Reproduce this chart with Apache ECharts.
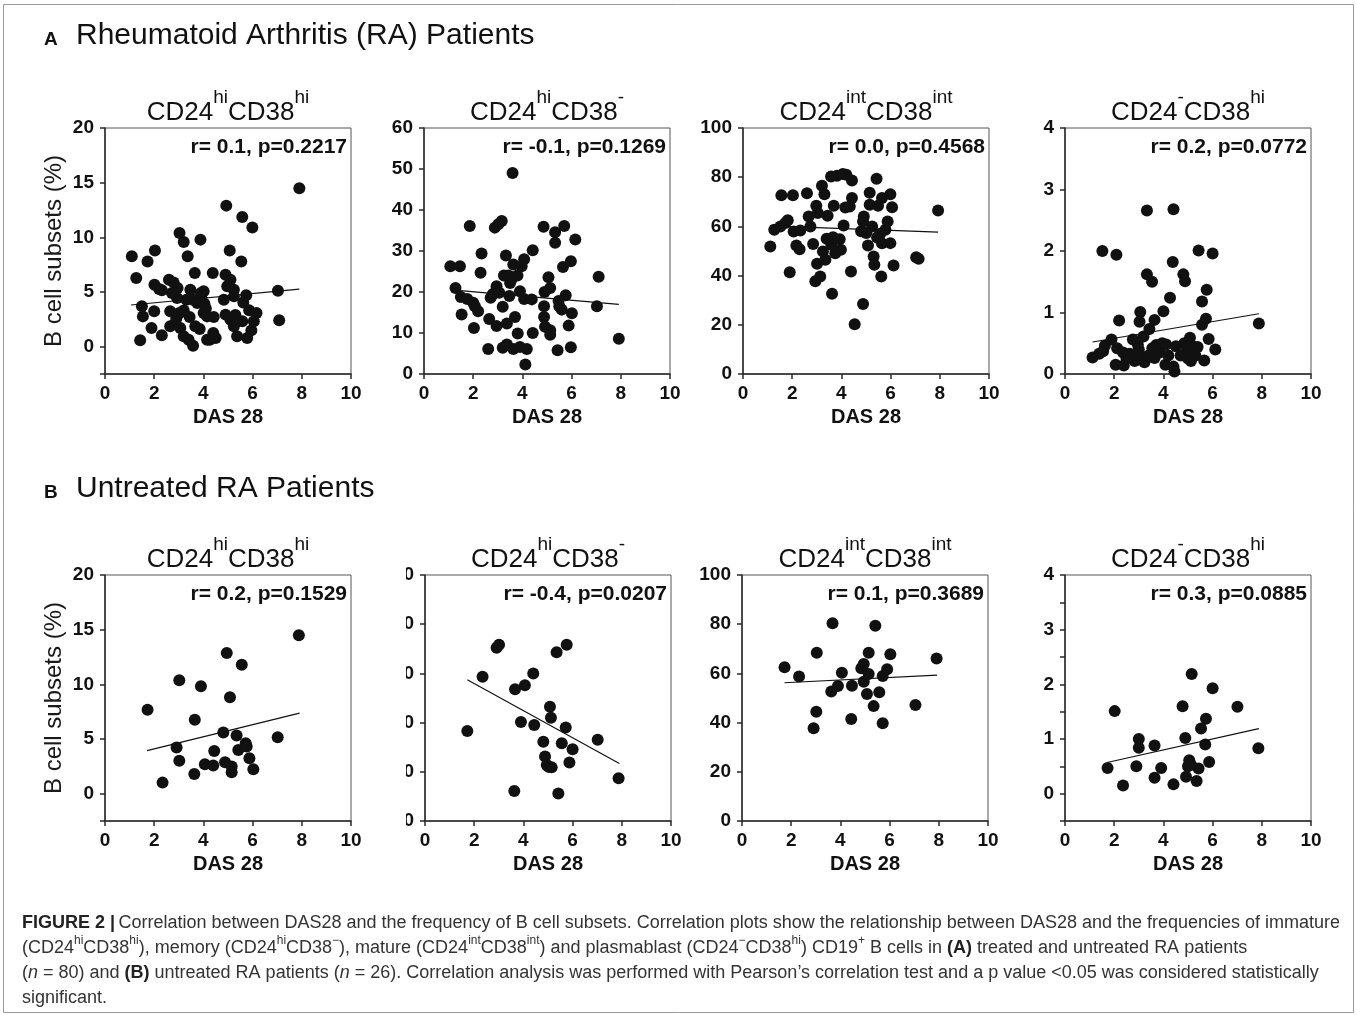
<!DOCTYPE html>
<html>
<head>
<meta charset="utf-8">
<script src="https://cdn.jsdelivr.net/npm/echarts@6/dist/echarts.min.js"></script>
<style>
html,body{margin:0;padding:0;background:#fff;}
#chart{width:1357px;height:1015px;}
</style>
</head>
<body>
<div id="chart"></div>
<script>
// ---------- DATA ----------
const panelTitles = [
  ['CD24','hi','CD38','hi'],
  ['CD24','hi','CD38','-'],
  ['CD24','int','CD38','int'],
  ['CD24','-','CD38','hi']
];
const statsA = ['r= 0.1, p=0.2217', 'r= -0.1, p=0.1269', 'r= 0.0, p=0.4568', 'r= 0.2, p=0.0772'];
const statsB = ['r= 0.2, p=0.1529', 'r= -0.4, p=0.0207', 'r= 0.1, p=0.3689', 'r= 0.3, p=0.0885'];

// y-axis extents per panel [min, max]
const yRangesA = [[-2.5, 20], [0, 60], [0, 100], [0, 4]];
const yRangesB = [[-2.5, 20], [0, 50], [0, 100], [-0.5, 4]];

// A: all RA patients (DAS28, %)
const A_CD24hiCD38hi = [[1.09,8.26],[1.27,6.28],[1.73,7.8],[2.03,8.8],[1.5,3.7],[1.54,2.77],[1.43,0.58],[2.0,3.23],[1.89,1.7],[2.31,1.04],[2.01,5.67],[2.2,5.27],[2.31,5.15],[2.6,6.13],[2.79,5.88],[2.95,5.37],[2.93,4.45],[2.65,3.23],[2.65,1.86],[2.86,2.16],[3.02,3.08],[3.03,10.4],[3.2,9.57],[3.36,8.26],[3.06,1.7],[3.2,0.95],[3.4,0.64],[3.58,0.09],[3.44,2.71],[3.31,4.3],[3.47,5.2],[3.58,4.3],[3.65,6.74],[3.67,1.86],[3.85,1.62],[3.88,9.79],[3.92,4.45],[4.01,5.06],[4.04,3.93],[4.01,3.08],[4.15,2.77],[4.15,0.64],[4.26,0.64],[4.38,6.74],[4.42,2.71],[4.4,1.25],[4.5,0.79],[4.83,4.3],[4.9,6.58],[4.93,12.9],[4.97,5.52],[5.1,6.13],[5.24,5.2],[5.07,8.8],[4.9,2.93],[5.1,2.47],[5.24,1.86],[5.37,0.95],[5.58,11.86],[5.54,7.8],[5.58,2.32],[5.62,4.05],[5.74,4.7],[5.78,0.79],[5.95,1.49],[5.86,3.32],[6.16,3.08],[6.05,2.32],[5.99,10.9],[7.03,5.12],[7.08,2.41],[7.9,14.48],[5.24,4.6],[2.72,4.9],[3.75,4.0],[4.1,3.5],[3.2,3.3],[2.9,2.6],[3.9,4.9],[5.3,2.9]];
const A_CD24hiCD38neg = [[1.07,26.3],[1.46,26.3],[1.28,21.0],[1.5,18.8],[1.76,18.3],[1.53,14.5],[1.86,36.1],[2.0,17.4],[2.07,16.5],[2.2,15.3],[2.03,11.2],[2.34,29.4],[2.3,24.7],[2.65,13.4],[2.61,6.1],[2.71,18.6],[2.88,35.7],[3.02,36.5],[3.16,37.3],[2.95,21.4],[3.06,19.8],[2.95,11.7],[3.2,16.4],[3.33,28.9],[3.25,24.0],[3.43,24.0],[3.63,26.7],[3.6,49.0],[3.5,22.2],[3.47,19.0],[3.37,12.3],[3.7,13.9],[3.8,24.0],[3.97,26.3],[4.07,28.0],[3.9,20.2],[4.07,18.3],[3.81,9.9],[3.2,6.4],[3.37,7.2],[3.63,6.1],[3.9,6.6],[4.18,6.1],[4.12,2.3],[4.42,30.2],[4.38,18.2],[4.42,10.0],[4.86,35.9],[4.88,16.5],[4.88,13.9],[4.92,11.5],[5.06,23.6],[5.13,21.0],[5.13,10.7],[5.13,9.6],[5.33,34.6],[5.33,32.0],[5.47,17.8],[5.6,15.7],[5.43,5.8],[5.7,36.1],[5.65,26.1],[5.76,19.2],[5.97,27.5],[6.15,32.8],[6.01,14.8],[5.88,11.8],[5.97,6.5],[7.1,23.7],[7.03,16.5],[7.92,8.6],[2.8,19.5],[3.55,23.0],[4.9,20.0],[5.5,16.5]];
const A_CD24intCD38int = [[1.11,51.8],[1.27,58.6],[1.52,60.0],[1.56,72.7],[1.72,61.4],[1.82,62.5],[1.9,41.4],[2.03,72.7],[2.06,57.9],[2.17,52.2],[2.3,50.7],[2.33,58.3],[2.6,73.5],[2.67,64.0],[2.74,60.0],[2.85,52.8],[2.94,37.7],[3.01,44.8],[2.98,68.4],[3.14,39.6],[3.21,76.5],[3.31,73.1],[3.25,49.8],[3.35,46.4],[3.04,65.4],[3.44,64.3],[3.62,32.6],[3.58,80.3],[3.69,68.4],[3.66,55.6],[3.59,52.5],[3.75,49.1],[3.93,54.8],[3.98,50.5],[3.82,80.6],[4.06,81.3],[4.2,81.0],[4.09,60.4],[4.16,67.7],[4.43,78.7],[4.43,71.5],[4.34,68.1],[4.39,41.7],[4.54,20.2],[4.88,28.5],[4.91,64.0],[4.88,62.0],[5.01,57.3],[5.15,73.7],[5.15,68.8],[5.08,52.2],[5.25,60.0],[5.31,47.8],[5.34,44.4],[5.43,79.4],[5.49,68.4],[5.65,71.5],[5.58,57.0],[5.65,53.1],[5.79,58.6],[5.88,62.0],[5.62,39.6],[5.99,73.1],[6.06,67.8],[5.99,53.2],[6.12,44.1],[7.04,47.5],[7.14,46.8],[7.93,66.5],[3.4,55.0],[4.8,58.0],[5.45,55.5]];
const A_CD24negCD38hi = [[1.12,0.27],[1.39,0.33],[1.52,2.0],[1.55,0.37],[1.62,0.46],[1.89,0.56],[2.09,1.94],[2.2,0.87],[2.06,0.15],[2.39,0.14],[2.12,0.42],[2.36,0.35],[2.63,0.33],[2.83,0.21],[2.96,0.48],[3.06,1.01],[3.03,0.85],[3.19,0.61],[3.1,0.27],[3.23,0.19],[3.33,2.66],[3.33,1.62],[3.54,1.5],[3.43,0.73],[3.64,0.88],[3.71,0.47],[3.64,0.26],[4.0,1.02],[4.11,0.48],[4.08,0.15],[4.27,1.24],[4.38,1.82],[4.41,2.68],[4.41,0.12],[4.45,0.04],[4.51,0.45],[4.81,1.62],[4.88,1.51],[4.85,0.5],[4.92,0.35],[5.08,0.59],[5.12,0.21],[5.19,0.45],[5.39,0.44],[5.43,2.01],[5.57,1.18],[5.57,0.8],[5.66,0.22],[5.76,1.37],[5.73,0.9],[5.84,0.57],[6.0,1.96],[6.11,0.4],[7.88,0.82],[2.76,0.56],[2.9,0.3],[3.4,0.3],[3.55,0.42],[3.85,0.35],[3.95,0.5],[4.2,0.3],[2.5,0.25],[3.0,0.4],[4.7,0.3],[5.0,0.25],[5.3,0.3]];

// B: untreated RA patients
const B_CD24hiCD38hi = [[1.73,7.68],[2.34,1.01],[2.91,4.22],[3.02,3.0],[3.02,10.37],[3.65,6.76],[3.63,1.8],[3.9,9.82],[4.06,2.69],[4.44,3.91],[4.4,2.57],[4.81,5.6],[4.88,2.87],[4.95,12.87],[5.08,8.81],[5.15,2.48],[5.15,1.96],[5.35,5.32],[5.42,4.0],[5.56,11.8],[5.72,4.62],[5.76,4.31],[5.87,3.24],[6.03,2.23],[7.02,5.17],[7.88,14.5]];
const B_CD24hiCD38neg = [[1.72,18.3],[2.34,29.3],[2.91,35.2],[3.01,35.8],[3.66,26.8],[3.63,6.1],[3.9,20.1],[4.06,27.6],[4.4,30.0],[4.44,19.5],[4.81,16.1],[4.88,13.1],[4.95,11.4],[5.08,23.2],[5.12,21.0],[5.15,10.9],[5.35,34.3],[5.42,5.6],[5.56,15.8],[5.72,19.0],[5.76,35.8],[6.0,14.6],[5.87,11.9],[7.02,16.5],[7.87,8.7],[5.02,11.0]];
const B_CD24intCD38int = [[1.73,62.5],[2.32,58.7],[2.91,37.7],[3.02,44.4],[3.04,68.4],[3.68,80.4],[3.63,52.6],[3.9,54.9],[4.06,60.3],[4.44,41.5],[4.47,55.0],[4.85,62.1],[4.95,63.8],[4.95,56.6],[5.15,59.8],[5.08,51.6],[5.15,68.4],[5.35,46.7],[5.42,79.4],[5.58,52.3],[5.72,58.9],[5.9,61.7],[6.03,67.8],[5.72,39.7],[7.05,47.2],[7.91,66.1]];
const B_CD24negCD38hi = [[1.73,0.47],[2.02,1.51],[2.36,0.15],[2.9,0.5],[3.0,1.0],[3.0,0.84],[3.64,0.88],[3.64,0.29],[3.91,0.47],[4.41,0.17],[4.78,1.6],[4.89,1.02],[4.92,0.31],[5.05,0.61],[5.12,0.53],[5.15,2.19],[5.35,0.23],[5.43,0.46],[5.53,1.19],[5.73,1.37],[5.7,0.9],[5.86,0.58],[6.0,1.93],[7.01,1.59],[7.86,0.83],[5.0,0.5]];

// regression line end points [[x1,y1],[x2,y2]]
const fitA = [
  [[1.06,3.81],[7.9,5.27]],
  [[1.12,20.5],[7.92,17.0]],
  [[1.1,60.2],[7.93,57.7]],
  [[1.12,0.52],[7.88,0.98]]
];
const fitB = [
  [[1.71,3.94],[7.91,7.37]],
  [[1.72,28.7],[7.9,11.7]],
  [[1.73,56.2],[7.93,59.3]],
  [[1.71,0.57],[7.88,1.19]]
];

const captionLines = [
  '{b|FIGURE 2 |} {n|Correlation between DAS28 and the frequency of B cell subsets. Correlation plots show the relationship between DAS28 and the frequencies of immature}',
  '{n|(CD24}{s|hi}{n|CD38}{s|hi}{n|), memory (CD24}{s|hi}{n|CD38}{s|\u2212}{n|), mature (CD24}{s|int}{n|CD38}{s|int}{n|) and plasmablast (CD24}{s|\u2212}{n|CD38}{s|hi}{n|) CD19}{s|+}{n| B cells in }{b|(A)}{n| treated and untreated RA patients}',
  '{n|(}{i|n}{n| = 80) and }{b|(B)}{n| untreated RA patients (}{i|n}{n| = 26). Correlation analysis was performed with Pearson\u2019s correlation test and a p value <0.05 was considered statistically}',
  '{n|significant.}'
];

// ---------- LAYOUT ----------
const FONT = 'Liberation Sans, Arial, Helvetica, sans-serif';
const gridPos = [[105,128],[424,128],[743,128],[1065,128],[105,575],[425,575],[742,575],[1065,575]];
const GW = 246, GH = 246;
const allData = [A_CD24hiCD38hi, A_CD24hiCD38neg, A_CD24intCD38int, A_CD24negCD38hi,
                 B_CD24hiCD38hi, B_CD24hiCD38neg, B_CD24intCD38int, B_CD24negCD38hi];
const allFits = fitA.concat(fitB);
const allStats = statsA.concat(statsB);
const allRanges = yRangesA.concat(yRangesB);

const grids = [], xAxes = [], yAxes = [], series = [], graphics = [];
const axisColor = '#2a2a2a';

for (let i = 0; i < 8; i++) {
  const [l, t] = gridPos[i];
  grids.push({left: l, top: t, width: GW, height: GH, show: true, borderColor: '#555', borderWidth: 1, containLabel: false});
  xAxes.push({
    type: 'value', gridIndex: i, min: 0, max: 10, interval: 2,
    name: 'DAS 28', nameLocation: 'middle', nameGap: 33,
    nameTextStyle: {fontFamily: FONT, fontWeight: 'bold', fontSize: 20, color: '#111'},
    axisLine: {show: true, onZero: false, lineStyle: {color: axisColor, width: 1.5}},
    axisTick: {show: true, length: 5, lineStyle: {color: axisColor, width: 1.5}},
    axisLabel: {fontFamily: FONT, fontWeight: 'bold', fontSize: 19, color: '#111', margin: 10},
    splitLine: {show: false}
  });
  const [ymin, ymax] = allRanges[i];
  const col = i % 4;
  const y = {
    type: 'value', gridIndex: i, min: ymin, max: ymax,
    axisLine: {show: true, onZero: false, lineStyle: {color: axisColor, width: 1.5}},
    axisTick: {show: true, length: 5, lineStyle: {color: axisColor, width: 1.5}},
    axisLabel: {fontFamily: FONT, fontWeight: 'bold', fontSize: 19, color: '#111', margin: 11},
    splitLine: {show: false}
  };
  if (ymin === -2.5) {
    y.splitNumber = 5;
    y.axisLabel.formatter = v => (Math.abs(v + 2.5) < 1e-6 ? '' : String(v));
  } else if (ymin === -0.5) {
    y.interval = 0.5;
    y.axisLabel.formatter = v => (Math.abs(v - Math.round(v)) < 1e-6 ? String(Math.round(v)) : '');
  } else {
    y.interval = (ymax - ymin) / (ymax === 100 ? 5 : ymax === 4 ? 4 : ymax / 10);
  }
  if (col === 0) {
    y.name = 'B cell subsets (%)';
    y.nameLocation = 'middle';
    y.nameGap = 39;
    y.nameTextStyle = {fontFamily: FONT, fontSize: 24, color: '#1a1a1a'};
  }
  yAxes.push(y);

  series.push({
    type: 'scatter', xAxisIndex: i, yAxisIndex: i, data: allData[i],
    symbol: 'circle', symbolSize: 12, itemStyle: {color: '#111', opacity: 1}, silent: true, z: 3
  });
  series.push({
    type: 'line', xAxisIndex: i, yAxisIndex: i, data: allFits[i],
    symbol: 'none', lineStyle: {color: '#111', width: 1.2}, silent: true, z: 4
  });

  // stats annotation
  graphics.push({
    type: 'text', x: l + GW - 4, y: t + 19, z: 10,
    style: {text: allStats[i], fontFamily: FONT, fontWeight: 'bold', fontSize: 21, fill: '#111',
            align: 'right', verticalAlign: 'middle'}
  });
  // panel title
  const pt = panelTitles[col];
  graphics.push({
    type: 'text', x: l + GW / 2, y: t - 21, z: 10,
    style: {
      text: '{n|' + pt[0] + '}{s|' + pt[1] + '}{n|' + pt[2] + '}{s|' + pt[3] + '}',
      align: 'center', verticalAlign: 'middle',
      rich: {
        n: {fontFamily: FONT, fontSize: 26, fill: '#111', lineHeight: 38, verticalAlign: 'bottom'},
        s: {fontFamily: FONT, fontSize: 19, fill: '#111', lineHeight: 20, verticalAlign: 'top'}
      }
    }
  });
}

// clip B2 y-axis labels as in the reference
graphics.push({type: 'rect', shape: {x: 380, y: 560, width: 26, height: 275}, style: {fill: '#fff'}, z: 50});

// section headings
graphics.push({type: 'text', x: 44, y: 40, style: {text: 'A', fontFamily: FONT, fontWeight: 'bold', fontSize: 19, fill: '#111', verticalAlign: 'middle'}});
graphics.push({type: 'text', x: 76, y: 36, style: {text: 'Rheumatoid Arthritis (RA) Patients', fontFamily: FONT, fontSize: 30, fill: '#111', verticalAlign: 'middle'}});
graphics.push({type: 'text', x: 44, y: 493, style: {text: 'B', fontFamily: FONT, fontWeight: 'bold', fontSize: 19, fill: '#111', verticalAlign: 'middle'}});
graphics.push({type: 'text', x: 76, y: 489, style: {text: 'Untreated RA Patients', fontFamily: FONT, fontSize: 30, fill: '#111', verticalAlign: 'middle'}});

// caption
const capRich = {
  n: {fontFamily: FONT, fontSize: 18, fill: '#333', lineHeight: 22, verticalAlign: 'bottom'},
  b: {fontFamily: FONT, fontSize: 18, fontWeight: 'bold', fill: '#222', lineHeight: 22, verticalAlign: 'bottom'},
  i: {fontFamily: FONT, fontSize: 18, fontStyle: 'italic', fill: '#333', lineHeight: 22, verticalAlign: 'bottom'},
  s: {fontFamily: FONT, fontSize: 12, fill: '#333', lineHeight: 12, verticalAlign: 'top'}
};
captionLines.forEach((txt, k) => {
  graphics.push({type: 'text', x: 22, y: 921 + k * 25, style: {text: txt, rich: capRich, verticalAlign: 'middle'}});
});

// figure frame
graphics.push({type: 'rect', shape: {x: 3.5, y: 4.5, width: 1350, height: 1008}, style: {fill: 'none', stroke: '#9a9a9a', lineWidth: 1}, z: 0});

const chart = echarts.init(document.getElementById('chart'), null, {renderer: 'canvas'});
chart.setOption({
  backgroundColor: '#fff',
  animation: false,
  grid: grids,
  xAxis: xAxes,
  yAxis: yAxes,
  series: series,
  graphic: {elements: graphics}
});
</script>
</body>
</html>
